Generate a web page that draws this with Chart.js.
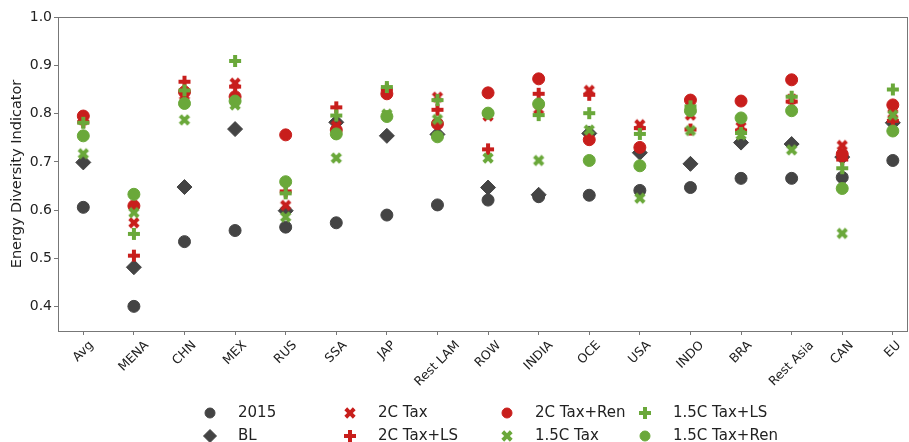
<!DOCTYPE html>
<html>
<head>
<meta charset="utf-8">
<script src="https://cdn.jsdelivr.net/npm/chart.js@4/dist/chart.umd.min.js"></script>
<style>
  html, body { margin: 0; padding: 0; background: #fff; }
  canvas { display: block; }
</style>
</head>
<body>
<canvas id="chart" width="909" height="442"></canvas>
<script>
// Regions along the x axis
const categories = ['Avg', 'MENA', 'CHN', 'MEX', 'RUS', 'SSA', 'JAP', 'Rest LAM', 'ROW',
  'INDIA', 'OCE', 'USA', 'INDO', 'BRA', 'Rest Asia', 'CAN', 'EU'];

// Energy diversity indicator per scenario
const s2015     = [0.606, 0.401, 0.535, 0.558, 0.565, 0.574, 0.590, 0.611, 0.621, 0.628, 0.631, 0.641, 0.647, 0.666, 0.666, 0.668, 0.703];
const sBL       = [0.699, 0.482, 0.648, 0.768, 0.599, 0.782, 0.754, 0.757, 0.647, 0.632, 0.759, 0.719, 0.696, 0.740, 0.737, 0.710, 0.781];
const tax2C     = [0.787, 0.574, 0.838, 0.863, 0.610, 0.775, 0.845, 0.834, 0.795, 0.809, 0.848, 0.777, 0.797, 0.773, 0.830, 0.734, 0.800];
const tax2CLS   = [0.783, 0.506, 0.866, 0.856, 0.639, 0.813, 0.850, 0.808, 0.726, 0.841, 0.839, 0.770, 0.767, 0.765, 0.825, 0.705, 0.785];
const tax2CRen  = [0.795, 0.609, 0.845, 0.835, 0.756, 0.766, 0.841, 0.779, 0.843, 0.872, 0.746, 0.730, 0.828, 0.826, 0.870, 0.716, 0.818];
const tax15C    = [0.717, 0.595, 0.787, 0.818, 0.586, 0.708, 0.799, 0.788, 0.708, 0.703, 0.766, 0.625, 0.765, 0.756, 0.725, 0.552, 0.797];
const tax15CLS  = [0.781, 0.551, 0.848, 0.909, 0.635, 0.796, 0.855, 0.828, 0.800, 0.797, 0.801, 0.758, 0.815, 0.760, 0.835, 0.687, 0.850];
const tax15CRen = [0.754, 0.633, 0.821, 0.826, 0.659, 0.758, 0.794, 0.752, 0.801, 0.820, 0.703, 0.692, 0.806, 0.791, 0.806, 0.645, 0.764];

const yTicks = [0.4, 0.5, 0.6, 0.7, 0.8, 0.9, 1.0];

const GRAY = 'rgb(68,68,68)';
const RED = 'rgb(200,30,28)';
const GREEN = 'rgb(106,168,58)';
const FONT = "'DejaVu Sans', sans-serif";
const TEXT = '#222';

// filled plus / x markers like matplotlib 'P' and 'X'
function makeMarker(color, rotated) {
  const c = document.createElement('canvas');
  c.width = 16; c.height = 16;
  const g = c.getContext('2d');
  g.translate(8, 8);
  if (rotated) g.rotate(Math.PI / 4);
  const L = 6, a = 2;
  g.beginPath();
  g.moveTo(-a, -L); g.lineTo(a, -L); g.lineTo(a, -a); g.lineTo(L, -a);
  g.lineTo(L, a); g.lineTo(a, a); g.lineTo(a, L); g.lineTo(-a, L);
  g.lineTo(-a, a); g.lineTo(-L, a); g.lineTo(-L, -a); g.lineTo(-a, -a);
  g.closePath();
  g.fillStyle = color;
  g.fill();
  return c;
}

const series = [
  { label: '2015',        data: s2015,     color: GRAY,  style: 'circle',  radius: 6 },
  { label: 'BL',          data: sBL,       color: GRAY,  style: 'rectRot', radius: 7.5 },
  { label: '2C Tax',      data: tax2C,     color: RED,   style: makeMarker(RED, true),    radius: 6 },
  { label: '2C Tax+LS',   data: tax2CLS,   color: RED,   style: makeMarker(RED, false),   radius: 6 },
  { label: '2C Tax+Ren',  data: tax2CRen,  color: RED,   style: 'circle',  radius: 6 },
  { label: '1.5C Tax',    data: tax15C,    color: GREEN, style: makeMarker(GREEN, true),  radius: 6 },
  { label: '1.5C Tax+LS', data: tax15CLS,  color: GREEN, style: makeMarker(GREEN, false), radius: 6 },
  { label: '1.5C Tax+Ren',data: tax15CRen, color: GREEN, style: 'circle',  radius: 6 }
];

const datasets = series.map((s, i) => ({
  label: s.label,
  data: s.data.map((v, j) => ({ x: j, y: v })),
  pointStyle: s.style,
  pointRadius: s.radius,
  backgroundColor: s.color,
  borderColor: s.color,
  borderWidth: 1,
  order: -i   // later series on top, like matplotlib
}));

// frame, centred 45deg x labels and a column-wise legend (matplotlib look)
const framePlugin = {
  id: 'frameLegend',
  afterDraw(chart) {
    const { ctx, chartArea } = chart;
    ctx.save();
    ctx.strokeStyle = '#777';
    ctx.lineWidth = 1;
    ctx.strokeRect(chartArea.left + 0.5, chartArea.top + 0.5,
      chartArea.right - chartArea.left - 1, chartArea.bottom - chartArea.top);

    // x tick labels, rotated about their centre
    const xs = chart.scales.x;
    const fs = 12.5;
    ctx.font = fs + 'px ' + FONT;
    ctx.fillStyle = TEXT;
    ctx.textAlign = 'center';
    ctx.textBaseline = 'middle';
    categories.forEach((c, i) => {
      const w = ctx.measureText(c).width;
      const half = (w + fs) / Math.SQRT2 / 2;
      ctx.save();
      ctx.translate(xs.getPixelForValue(i), chartArea.bottom + 8 + half);
      ctx.rotate(-Math.PI / 4);
      ctx.fillText(c, 0, 0);
      ctx.restore();
    });

    // legend
    const colX = [210, 350, 507, 645];
    const rowY = [413, 436];
    ctx.font = '15px ' + FONT;
    ctx.textAlign = 'left';
    series.forEach((s, i) => {
      const x = colX[Math.floor(i / 2)];
      const y = rowY[i % 2];
      ctx.fillStyle = s.color;
      ctx.strokeStyle = s.color;
      Chart.helpers.drawPoint(ctx, { pointStyle: s.style, radius: s.radius - 1, borderWidth: 1, rotation: 0 }, x, y);
      ctx.fillStyle = TEXT;
      ctx.fillText(s.label, x + 28, y);
    });
    ctx.restore();
  }
};

new Chart(document.getElementById('chart'), {
  type: 'scatter',
  data: { datasets },
  plugins: [framePlugin],
  options: {
    responsive: false,
    animation: false,
    layout: { autoPadding: false, padding: { top: 17, right: 1, left: 0, bottom: 0 } },
    plugins: {
      legend: { display: false },
      tooltip: { enabled: false }
    },
    scales: {
      x: {
        type: 'linear',
        min: -0.5,
        max: 16.3,
        afterFit(scale) {
          scale.height = 111;
          scale.paddingLeft = 0;
          scale.paddingRight = 0;
        },
        afterBuildTicks(scale) { scale.ticks = categories.map((c, i) => ({ value: i })); },
        grid: { drawOnChartArea: false, drawTicks: true, tickLength: 4, color: '#777' },
        border: { display: false },
        ticks: { display: false }
      },
      y: {
        min: 0.35,
        max: 1.0,
        afterFit(scale) { scale.width = 58; },
        afterBuildTicks(scale) { scale.ticks = yTicks.map(v => ({ value: v })); },
        grid: { drawOnChartArea: false, drawTicks: true, tickLength: 4, color: '#777' },
        border: { display: false },
        ticks: {
          padding: 2,
          color: TEXT,
          font: { family: FONT, size: 14 },
          callback: (v) => v.toFixed(1)
        },
        title: {
          display: true,
          text: 'Energy Diversity Indicator',
          color: TEXT,
          padding: { top: 9, bottom: 0 },
          font: { family: FONT, size: 14.5 }
        }
      }
    }
  }
});
</script>
</body>
</html>
